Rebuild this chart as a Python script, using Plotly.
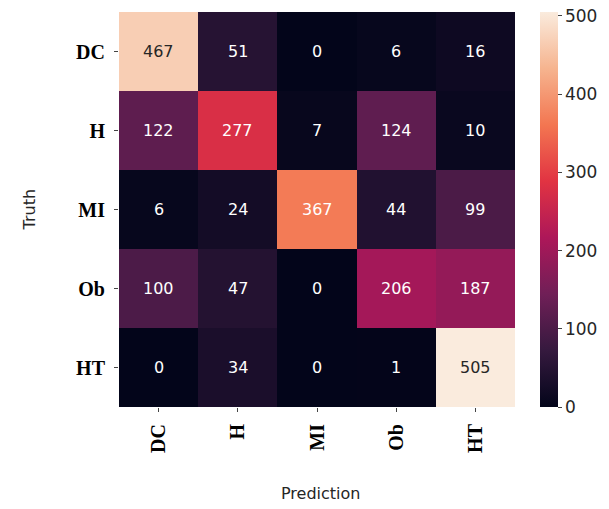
import plotly.graph_objects as go

classes = ["DC", "H", "MI", "Ob", "HT"]
values = [
    [467, 51, 0, 6, 16],
    [122, 277, 7, 124, 10],
    [6, 24, 367, 44, 99],
    [100, 47, 0, 206, 187],
    [0, 34, 0, 1, 505],
]
cbar_ticks = [0, 100, 200, 300, 400, 500]

rocket = [
    [0.0, "#03051a"],
    [1/7, "#35193e"],
    [2/7, "#701f57"],
    [3/7, "#ad1759"],
    [4/7, "#e13342"],
    [5/7, "#f37651"],
    [6/7, "#f6b48f"],
    [1.0, "#faebdd"],
]

zmax = max(max(r) for r in values)
n = len(classes)

fig = go.Figure(go.Heatmap(
    z=values,
    x=list(range(n)),
    y=list(range(n)),
    colorscale=rocket,
    zmin=0,
    zmax=zmax,
    xgap=0, ygap=0,
    colorbar=dict(
        x=1.063, xanchor="left", y=0.5, yanchor="middle",
        len=1.0, lenmode="fraction", thickness=18,
        xpad=0, ypad=0,
        outlinewidth=0,
        tickvals=cbar_ticks,
        ticks="outside", ticklen=4, tickcolor="#444",
        tickfont=dict(family="DejaVu Sans", size=17, color="#262626"),
    ),
    hoverinfo="skip",
))

annotations = []
for i in range(n):
    for j in range(n):
        v = values[i][j]
        dark = v / zmax > 0.8
        annotations.append(dict(
            x=j, y=i, xref="x", yref="y", text=str(v), showarrow=False,
            font=dict(family="DejaVu Sans", size=16,
                      color="#262626" if dark else "#ffffff"),
        ))

annotations.append(dict(
    x=-0.225, y=0.5, xref="paper", yref="paper", text="Truth", showarrow=False,
    textangle=-90, font=dict(family="DejaVu Sans", size=16, color="#262626"),
    xanchor="center", yanchor="middle",
))
annotations.append(dict(
    x=0.5076, y=-0.218, xref="paper", yref="paper", text="Prediction", showarrow=False,
    font=dict(family="DejaVu Sans", size=16, color="#262626"),
    xanchor="center", yanchor="middle",
))

fig.update_layout(
    template="none",
    width=609, height=509,
    margin=dict(l=119, r=94, t=12, b=102, autoexpand=False),
    paper_bgcolor="white", plot_bgcolor="white",
    annotations=annotations,
    xaxis=dict(
        tickvals=list(range(n)), ticktext=classes, tickangle=-90,
        range=[-0.5, n - 0.5], showgrid=False, zeroline=False, automargin=False,
        ticks="outside", ticklen=4, tickcolor="#444", ticklabelstandoff=4,
        tickfont=dict(family="Liberation Serif", size=20, color="black", weight="bold"),
    ),
    yaxis=dict(
        tickvals=list(range(n)), ticktext=classes,
        range=[n - 0.5, -0.5], showgrid=False, zeroline=False, automargin=False,
        ticks="outside", ticklen=4, tickcolor="#444", ticklabelstandoff=5,
        tickfont=dict(family="Liberation Serif", size=20, color="black", weight="bold"),
    ),
)

fig.write_html(
    "out.html",
    config={"displayModeBar": False},
    post_script="document.body.style.margin='0';document.body.style.overflow='hidden';",
)
